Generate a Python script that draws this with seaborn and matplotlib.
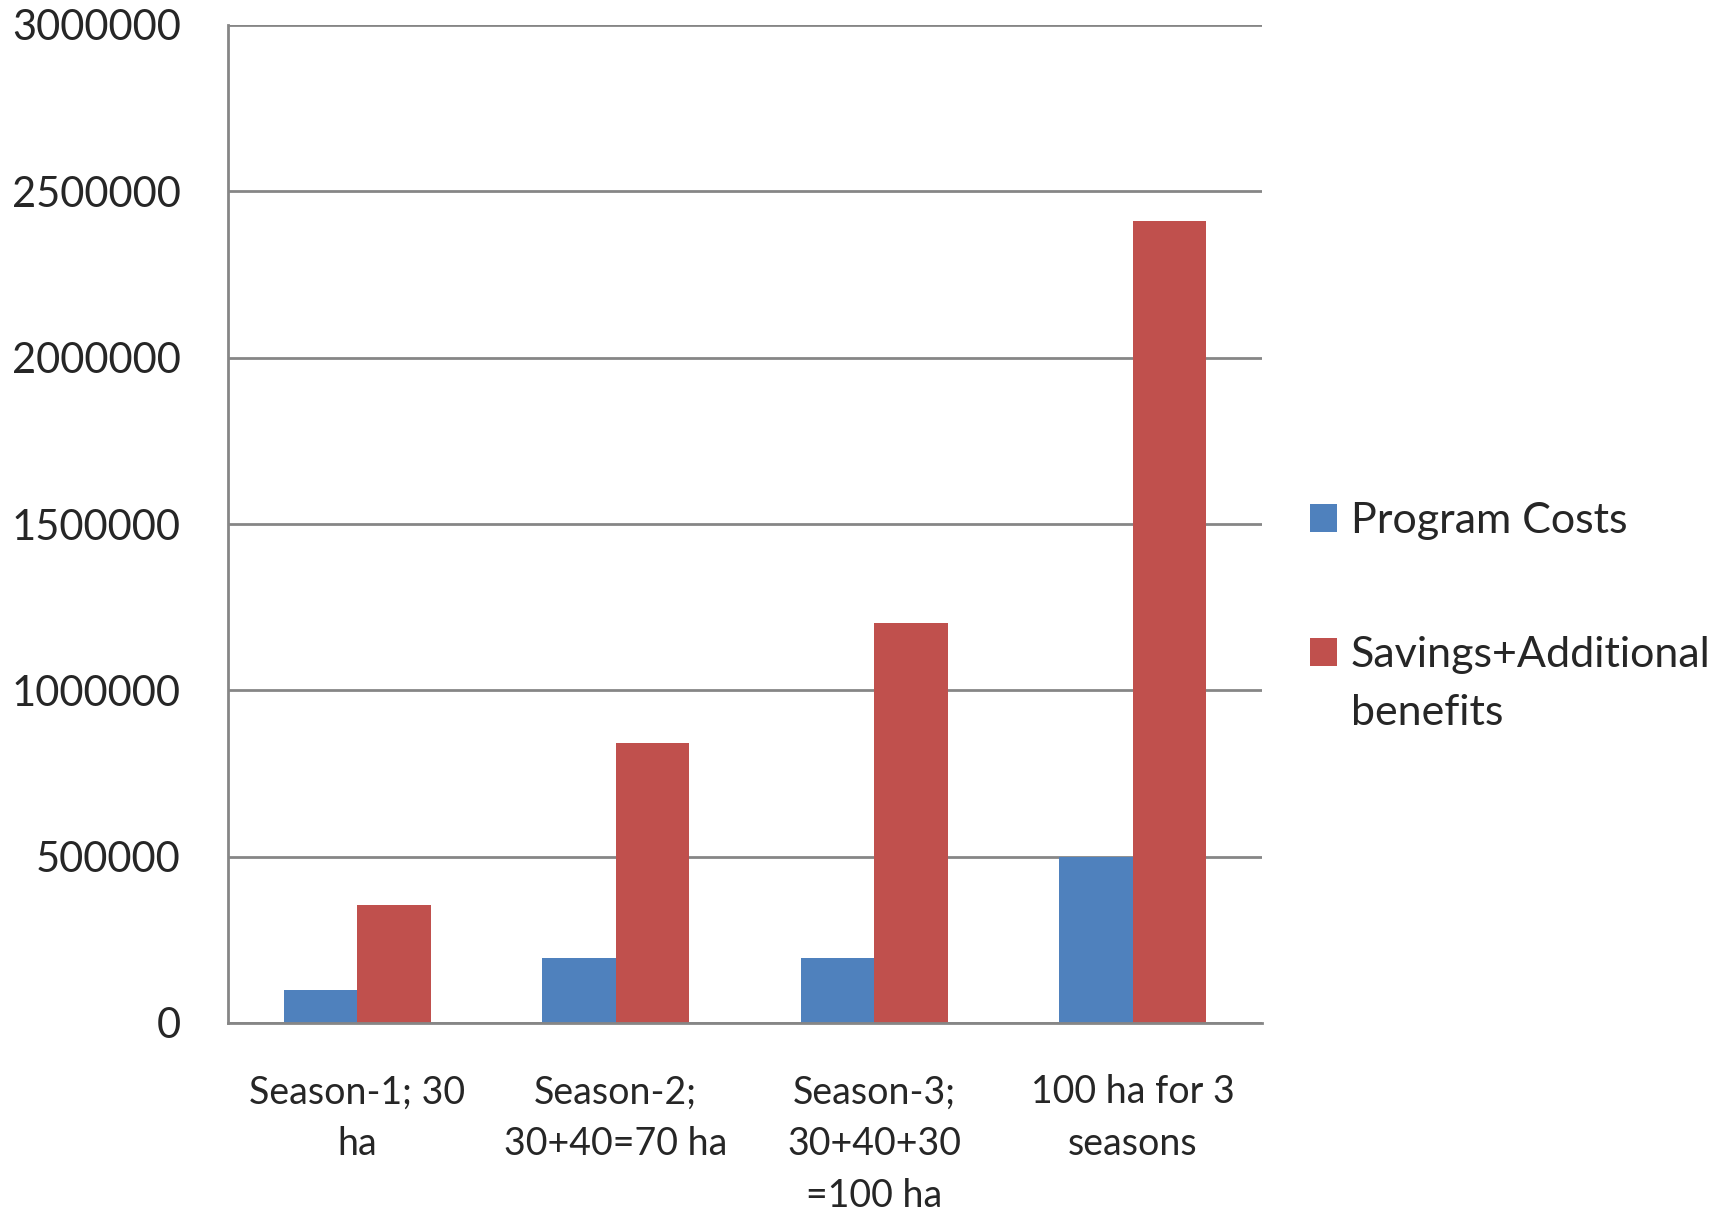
import pandas as pd
import matplotlib
matplotlib.use("Agg")
import matplotlib.pyplot as plt
import matplotlib.transforms as mtransforms
import seaborn as sns
import numpy as np

# Data
categories = ["Season-1; 30\nha", "Season-2;\n30+40=70 ha", "Season-3;\n30+40+30\n=100 ha", "100 ha for 3\nseasons"]
program_costs = [100000, 195000, 195000, 500000]
savings_benefits = [355000, 842000, 1202000, 2412000]
series_names = ["Program Costs", "Savings+Additional"]
colors = ["#4F81BD", "#C0504D"]

df = pd.DataFrame({
    "category": categories * 2,
    "value": program_costs + savings_benefits,
    "series": [series_names[0]] * 4 + [series_names[1]] * 4,
})

sns.set_style("white")
plt.rcParams["font.family"] = ["Lato", "DejaVu Sans"]

fig = plt.figure(figsize=(17.29, 12.11), dpi=100)
ax = fig.add_axes([228 / 1729, 1 - 1023 / 1211, (1262 - 228) / 1729, (1023 - 25) / 1211])

sns.barplot(data=df, x="category", y="value", hue="series", palette=colors,
            width=0.57, saturation=1, ax=ax, edgecolor="none")

grid_c = "#868686"
ax.set_ylim(0, 3000000)
ax.set_xlim(-0.5, 3.5)
ax.set_yticks(np.arange(0, 3000001, 500000))
ax.set_yticklabels([str(v) for v in range(0, 3000001, 500000)], fontsize=30)
ax.yaxis.grid(True, color=grid_c, linewidth=2)
ax.set_axisbelow(True)
ax.tick_params(axis="y", length=10, width=2, color=grid_c, pad=24)

# category labels centred, tick marks at the group boundaries
ax.set_xticks(range(4))
ax.set_xticklabels(categories, fontsize=27, linespacing=1.55)
ax.tick_params(axis="x", which="major", length=0, pad=37)
ax.set_xticks(np.arange(-0.5, 4, 1), minor=True)
ax.tick_params(axis="x", which="minor", length=12, width=2, color=grid_c)
ax.set_xlabel("")
ax.set_ylabel("")

for side in ["top", "right"]:
    ax.spines[side].set_visible(False)
for side in ["left", "bottom"]:
    ax.spines[side].set_color(grid_c)
    ax.spines[side].set_linewidth(2)

handles, labels = ax.get_legend_handles_labels()
leg = ax.legend(handles, labels, loc="center left", bbox_to_anchor=(1.009, 0.436),
                frameon=False, fontsize=31, handlelength=0.62, handleheight=0.62,
                handletextpad=0.33, labelspacing=2.23)

# second line of the wrapped legend label, under the first line
fig.canvas.draw()
bb = leg.get_texts()[1].get_window_extent()
fig.text(bb.x0, bb.y0 - 20, "benefits", transform=mtransforms.IdentityTransform(),
         ha="left", va="top", fontsize=31)

fig.savefig("out.png", dpi=100)
